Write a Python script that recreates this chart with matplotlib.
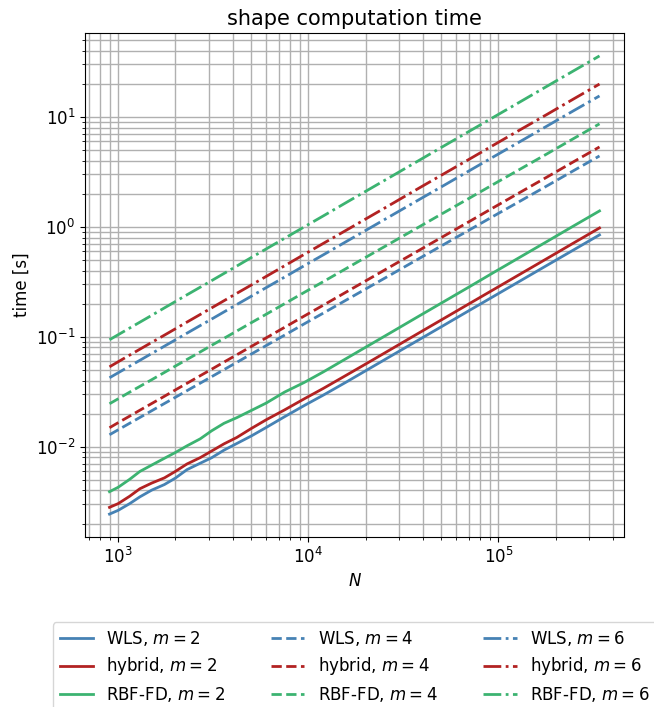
import numpy as np
import matplotlib
matplotlib.use("Agg")
import matplotlib.pyplot as plt

# number of nodes
N = [900, 1000, 1150, 1300, 1500, 1750, 2000, 2300, 2700, 3100, 3600, 4200, 5000, 6000,
     7500, 9500, 12000, 16000, 21000, 28000, 38000, 52000, 70000, 95000, 130000, 180000,
     250000, 340000]

# shape computation time [s], m = 2
wls_2 = [0.00244, 0.00264, 0.00304, 0.00350, 0.00403, 0.00453, 0.00519, 0.00619, 0.00708,
         0.00794, 0.00931, 0.01069, 0.01250, 0.01496, 0.01875, 0.02366, 0.02951, 0.03917,
         0.05152, 0.06887, 0.09354, 0.1282, 0.1730, 0.2350, 0.3221, 0.4467, 0.6209, 0.8453]
hyb_2 = [0.00281, 0.00304, 0.00355, 0.00415, 0.00467, 0.00521, 0.00597, 0.00697, 0.00796,
         0.00914, 0.01062, 0.01213, 0.01462, 0.01758, 0.02163, 0.02723, 0.03396, 0.04519,
         0.05929, 0.07925, 0.1079, 0.1479, 0.1995, 0.2710, 0.3715, 0.5152, 0.7178, 0.9772]
rbf_2 = [0.00390, 0.00428, 0.00506, 0.00596, 0.00681, 0.00785, 0.00887, 0.01019, 0.01180,
         0.01396, 0.01633, 0.01837, 0.02133, 0.02495, 0.03141, 0.03837, 0.04797, 0.06412,
         0.08433, 0.1127, 0.1535, 0.2104, 0.2838, 0.3873, 0.5309, 0.7362, 1.026, 1.396]

# m = 4
wls_4 = [0.01285, 0.01426, 0.01637, 0.01846, 0.02125, 0.02473, 0.02818, 0.03236, 0.03786,
         0.04337, 0.05026, 0.05848, 0.06950, 0.08318, 0.1035, 0.1309, 0.1644, 0.2183,
         0.2851, 0.3784, 0.5117, 0.6966, 0.9333, 1.262, 1.714, 2.360, 3.266, 4.416]
hyb_4 = [0.01489, 0.01656, 0.01901, 0.02148, 0.02472, 0.02877, 0.03289, 0.03776, 0.04426,
         0.05070, 0.05888, 0.06855, 0.08147, 0.09772, 0.1219, 0.1542, 0.1941, 0.2582,
         0.3381, 0.4498, 0.6081, 0.8299, 1.114, 1.510, 2.061, 2.838, 3.936, 5.333]
rbf_4 = [0.0246, 0.0273, 0.0314, 0.0354, 0.0407, 0.0474, 0.0542, 0.0622, 0.0728, 0.0836,
         0.0968, 0.1127, 0.1340, 0.1603, 0.2000, 0.2529, 0.3177, 0.4227, 0.5534, 0.7345,
         0.9931, 1.355, 1.816, 2.460, 3.350, 4.613, 6.397, 8.650]

# m = 6
wls_6 = [0.0424, 0.0471, 0.0541, 0.0611, 0.0705, 0.0822, 0.0938, 0.1079, 0.1265, 0.1449,
         0.1683, 0.1963, 0.2333, 0.2799, 0.3491, 0.4426, 0.5572, 0.7430, 0.9727, 1.297,
         1.758, 2.399, 3.228, 4.375, 5.970, 8.260, 11.46, 15.52]
hyb_6 = [0.0533, 0.0593, 0.0682, 0.0771, 0.0889, 0.1035, 0.1183, 0.1361, 0.1596, 0.1832,
         0.2128, 0.2483, 0.2951, 0.3540, 0.4426, 0.5610, 0.7079, 0.9419, 1.236, 1.648,
         2.239, 3.062, 4.111, 5.585, 7.638, 10.54, 14.66, 19.91]
rbf_6 = [0.0940, 0.1045, 0.1202, 0.1358, 0.1567, 0.1832, 0.2094, 0.2410, 0.2825, 0.3243,
         0.3767, 0.4395, 0.5248, 0.6295, 0.7870, 0.9977, 1.259, 1.683, 2.208, 2.944,
         3.999, 5.483, 7.379, 10.02, 13.71, 19.01, 26.42, 35.89]

methods = ['WLS', 'hybrid', 'RBF-FD']
colors = ['steelblue', 'firebrick', 'mediumseagreen']
orders = [2, 4, 6]
styles = ['-', '--', '-.']
data = {2: [wls_2, hyb_2, rbf_2], 4: [wls_4, hyb_4, rbf_4], 6: [wls_6, hyb_6, rbf_6]}

plt.rcParams['font.size'] = 12

fig = plt.figure(figsize=(6.54, 7.07), dpi=100)
ax = fig.add_axes([85 / 654, 1 - 537 / 707, (624 - 85) / 654, (537 - 33) / 707])

for m, ls in zip(orders, styles):
    for name, c, t in zip(methods, colors, data[m]):
        ax.plot(N, t, ls, color=c, lw=2, label=r'%s, $m = %d$' % (name, m))

ax.set_xscale('log')
ax.set_yscale('log')
ax.grid(True, which='both', color='#b0b0b0', lw=1)
ax.set_axisbelow(True)
ax.set_title('shape computation time', fontsize=15, pad=6)
ax.set_xlabel('$N$')
ax.set_ylabel('time [s]')

ax.legend(loc='upper center', bbox_to_anchor=(0.5, -0.169), borderaxespad=0, ncol=3,
          fontsize=12, handlelength=2, columnspacing=2.75, labelspacing=0.45)

fig.savefig('out.png', dpi=100)
